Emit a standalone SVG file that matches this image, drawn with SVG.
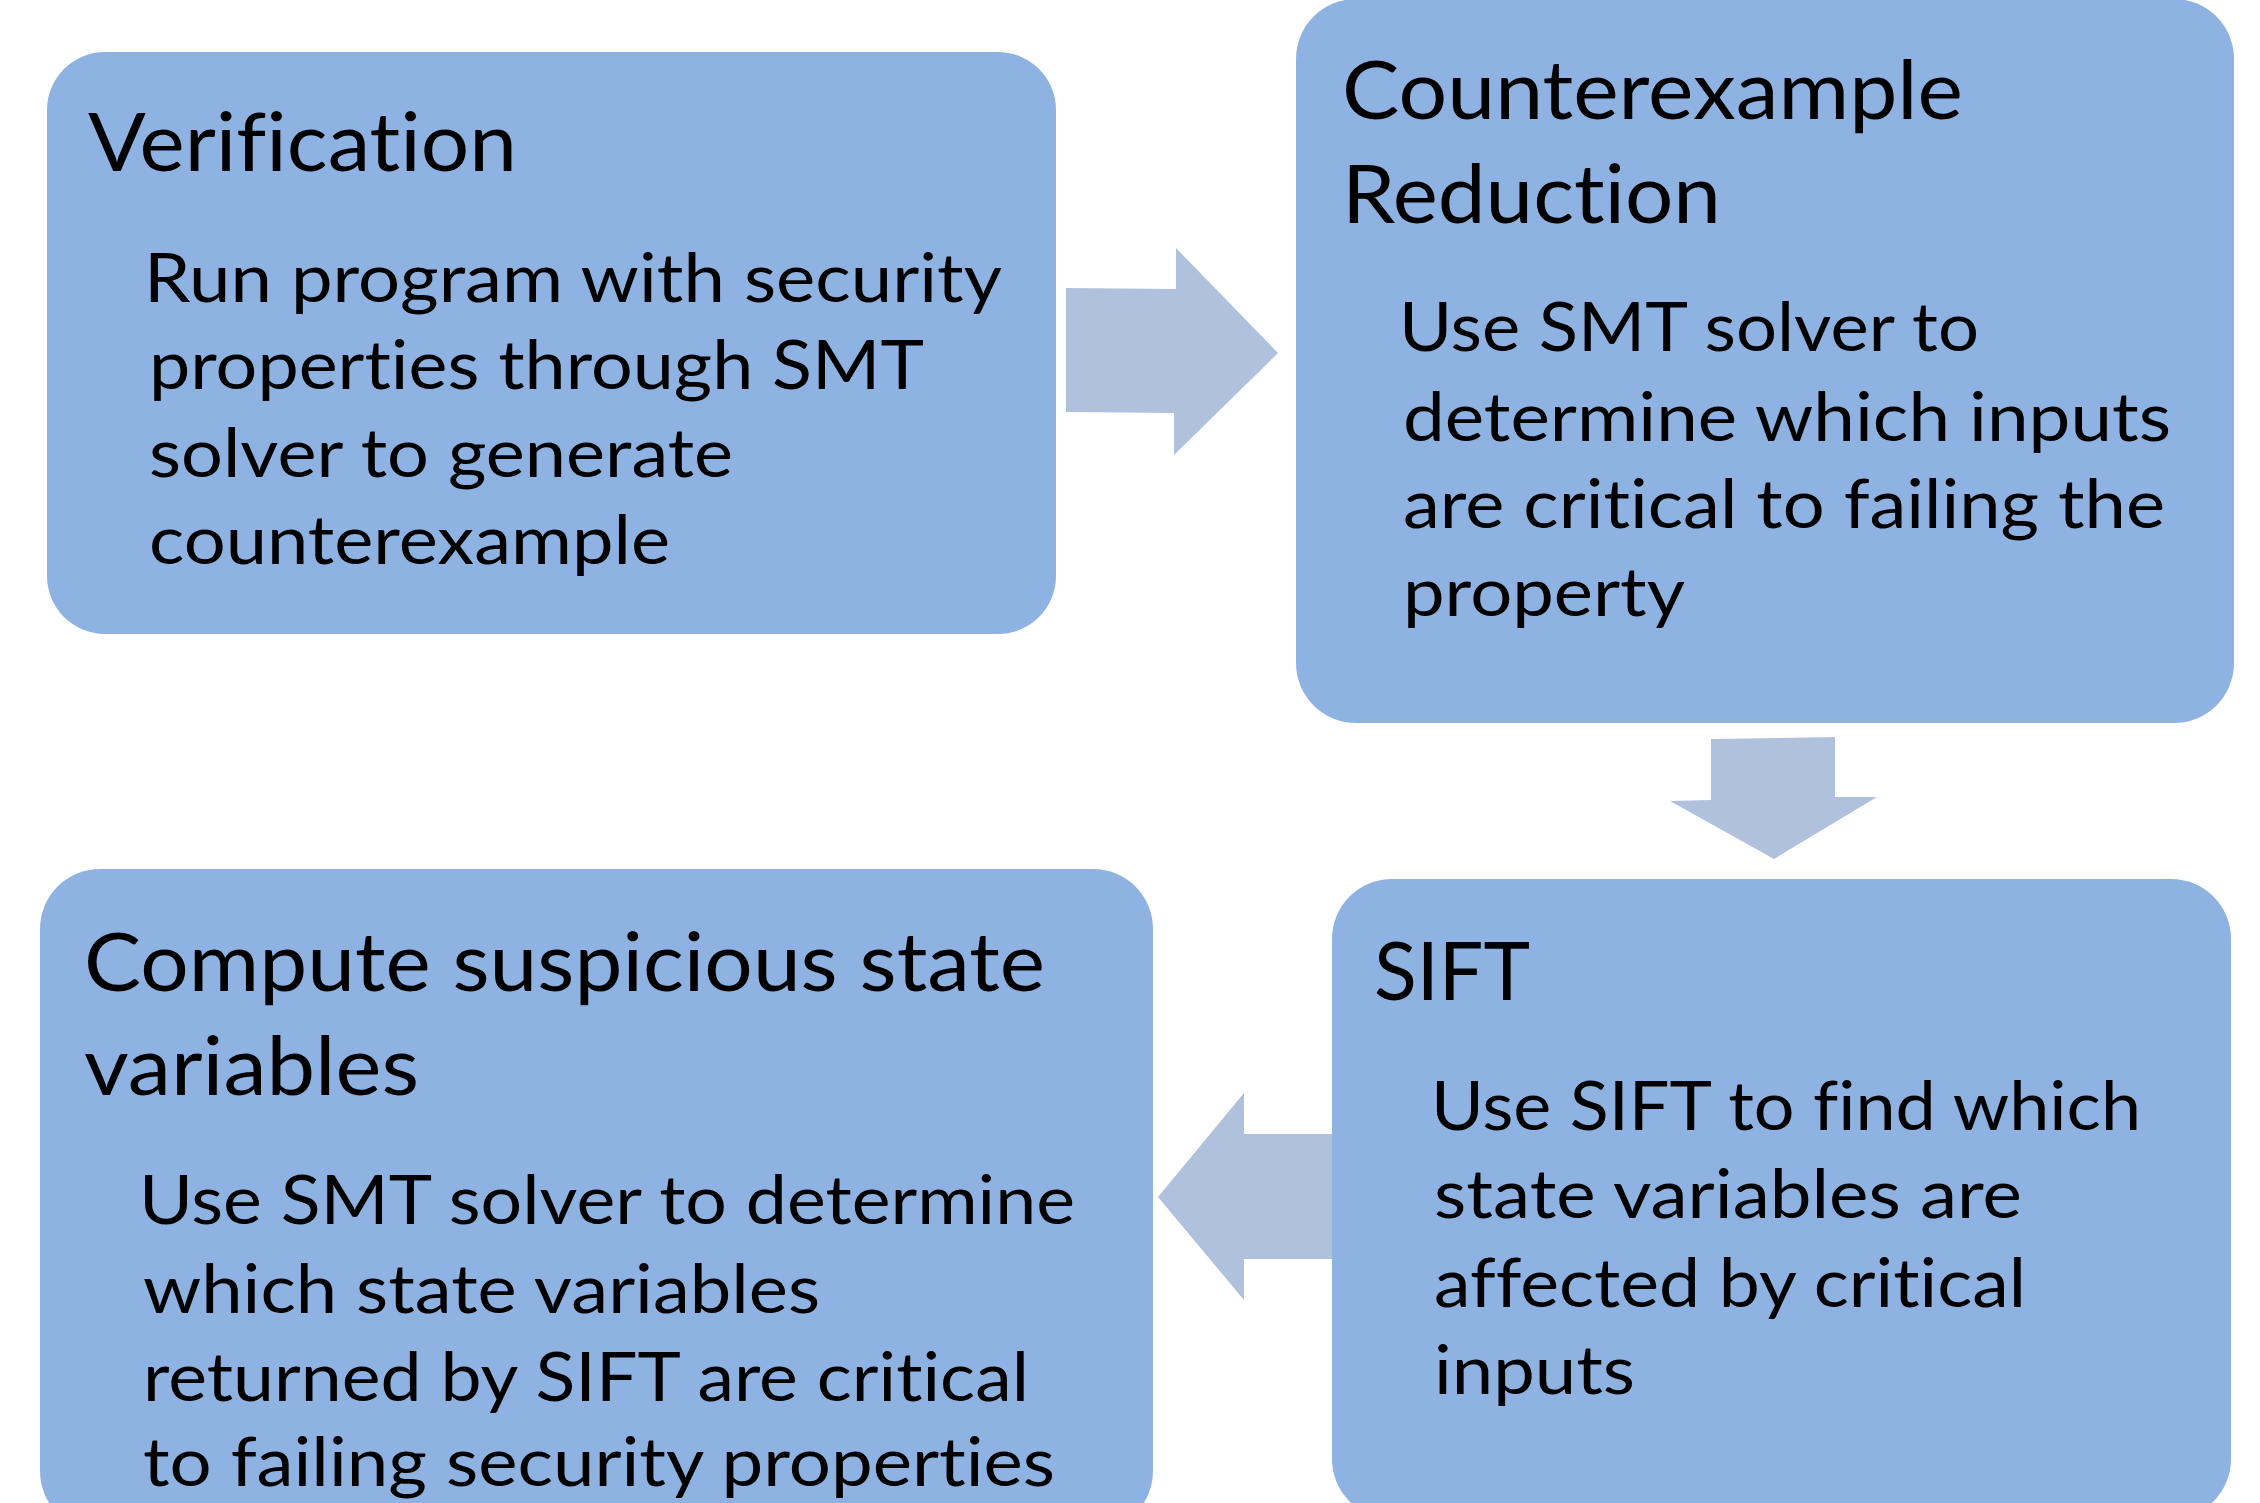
<svg xmlns="http://www.w3.org/2000/svg" width="2260" height="1503" viewBox="0 0 2260 1503">
<defs>
<style>
.box{fill:#8EB3E2;}
.arrow{fill:#B0C1DE;}
.title,.body{font-family:Lato,"Open Sans","Liberation Sans",sans-serif;fill:#000;font-variant-ligatures:none;font-feature-settings:"liga" 0,"clig" 0;}
.title{font-size:82px;}
.body{font-size:67px;}
</style>
</defs>
<rect width="2260" height="1503" fill="#FFFFFF"/>
<g id="connectors">
<polygon class="arrow" points="1066,288 1176,289 1176,248 1278,353 1174,455 1174,413 1066,412"/>
<polygon class="arrow" points="1711,739 1835,737 1835,797 1877,797 1774,859 1670,801 1711,800"/>
<polygon class="arrow" points="1340,1134 1244,1134 1244,1093 1158,1197 1244,1300 1244,1259 1340,1259"/>
</g>
<g id="node-verification">
<rect class="box" x="47" y="52" width="1009" height="582" rx="58" ry="58"/>
<text class="title" x="88" y="171" textLength="429" lengthAdjust="spacingAndGlyphs">Verification</text>
<text class="body" x="144" y="302" textLength="858" lengthAdjust="spacingAndGlyphs">Run program with security</text>
<text class="body" x="149" y="389" textLength="775" lengthAdjust="spacingAndGlyphs">properties through SMT</text>
<text class="body" x="149" y="477" textLength="584" lengthAdjust="spacingAndGlyphs">solver to generate</text>
<text class="body" x="149" y="564" textLength="521" lengthAdjust="spacingAndGlyphs">counterexample</text>
</g>
<g id="node-reduction">
<rect class="box" x="1296" y="-1" width="938" height="724" rx="60" ry="60"/>
<text class="title" x="1342" y="119" textLength="621" lengthAdjust="spacingAndGlyphs">Counterexample</text>
<text class="title" x="1342" y="223" textLength="379" lengthAdjust="spacingAndGlyphs">Reduction</text>
<text class="body" x="1399" y="351" textLength="580" lengthAdjust="spacingAndGlyphs">Use SMT solver to</text>
<text class="body" x="1403" y="441" textLength="768" lengthAdjust="spacingAndGlyphs">determine which inputs</text>
<text class="body" x="1403" y="528" textLength="762" lengthAdjust="spacingAndGlyphs">are critical to failing the</text>
<text class="body" x="1403" y="616" textLength="282" lengthAdjust="spacingAndGlyphs">property</text>
</g>
<g id="node-sift">
<rect class="box" x="1332" y="879" width="899" height="640" rx="60" ry="60"/>
<text class="title" x="1374" y="1000" textLength="156" lengthAdjust="spacingAndGlyphs">SIFT</text>
<text class="body" x="1431" y="1130" textLength="710" lengthAdjust="spacingAndGlyphs">Use SIFT to find which</text>
<text class="body" x="1434" y="1218" textLength="588" lengthAdjust="spacingAndGlyphs">state variables are</text>
<text class="body" x="1434" y="1307" textLength="592" lengthAdjust="spacingAndGlyphs">affected by critical</text>
<text class="body" x="1434" y="1394" textLength="201" lengthAdjust="spacingAndGlyphs">inputs</text>
</g>
<g id="node-compute">
<rect class="box" x="40" y="869" width="1113" height="662" rx="60" ry="60"/>
<text class="title" x="84" y="991" textLength="961" lengthAdjust="spacingAndGlyphs">Compute suspicious state</text>
<text class="title" x="84" y="1095" textLength="335" lengthAdjust="spacingAndGlyphs">variables</text>
<text class="body" x="139" y="1224" textLength="936" lengthAdjust="spacingAndGlyphs">Use SMT solver to determine</text>
<text class="body" x="143" y="1313" textLength="677" lengthAdjust="spacingAndGlyphs">which state variables</text>
<text class="body" x="143" y="1401" textLength="886" lengthAdjust="spacingAndGlyphs">returned by SIFT are critical</text>
<text class="body" x="143" y="1486" textLength="912" lengthAdjust="spacingAndGlyphs">to failing security properties</text>
</g>
</svg>
